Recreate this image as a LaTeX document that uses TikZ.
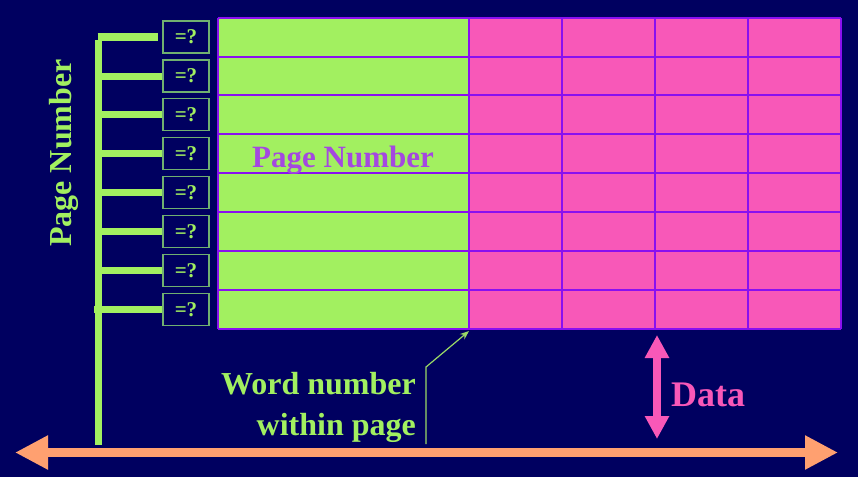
\documentclass[tikz,border=0pt]{standalone}
\usepackage{fontspec}
\setmainfont{Liberation Serif}
\usetikzlibrary{arrows.meta}
\definecolor{bg}{HTML}{000060}
\definecolor{lgreen}{HTML}{A2F060}
\definecolor{lpink}{HTML}{F858B8}
\definecolor{gridline}{HTML}{8A10F0}
\definecolor{orng}{HTML}{FFA070}
\definecolor{pgtxt}{HTML}{A448E0}
\definecolor{boxline}{HTML}{70B070}
\tikzset{
  cmpbox/.style={draw=boxline, line width=1.2pt, fill=bg, minimum width=46pt, minimum height=32pt, inner sep=0pt, text=lgreen, font=\bfseries\fontsize{21}{21}\selectfont},
  branch/.style={draw=lgreen, line width=7pt},
  lbl/.style={text=lgreen, font=\bfseries\fontsize{32}{41}\selectfont},
}
\begin{document}
\begin{tikzpicture}[x=1pt,y=-1pt]
\useasboundingbox[fill=bg] (0,0) rectangle (858,477);
% green and pink areas
\fill[lgreen] (218,18) rectangle (469,329);
\fill[lpink] (469,18) rectangle (841,329);
% grid lines
\foreach \y in {18,57,95,173,212,251,329}
  \draw[gridline, line width=1.6pt] (218,\y) -- (841,\y);
\foreach \y in {134,290}
  \draw[gridline, line width=2.6pt] (218,\y) -- (841,\y);
\foreach \x in {469,562,655,748,841}
  \draw[gridline, line width=1.8pt] (\x,18) -- (\x,329);
\draw[gridline, line width=1.2pt] (218,18) -- (218,329);
% left comparator tree
\draw[branch] (98,40) -- (98,445);
\draw[lgreen, line width=8pt] (97.5,37) -- (158,37);
\foreach \i/\y in {2/76,3/114.5,4/153.5,5/192.5,6/231.5,7/270.5,8/309.5}
  \draw[branch] (98,\y) -- (166,\y);
\draw[branch] (94,309.5) -- (98,309.5);
% comparator boxes
\foreach \i/\y in {1/37,2/76,3/114.5,4/153.5,5/192.5,6/231.5,7/270.5,8/309.5}
  \node[cmpbox] (c\i) at (186,\y) {=?};
% labels
\node[lbl, rotate=90] (pnv) at (64,153) {Page Number};
\node[text=pgtxt, font=\bfseries\fontsize{31}{31}\selectfont] (pni) at (343,160) {Page Number};
\node[lbl, align=right, anchor=east, inner sep=0pt] (wn) at (416,407) {Word number\\within page};
% leader
\coordinate (l0) at (426,444);
\coordinate (l1) at (426,367);
\coordinate (l2) at (469,331);
\draw[lgreen!80!gray, line width=1.2pt, -{Stealth[length=9pt,width=7pt]}] (l0) -- (l1) -- (l2);
% data arrow
\coordinate (d0) at (657,335);
\coordinate (d1) at (657,439);
\draw[lpink, line width=8pt, {Triangle[length=23pt,width=23pt]}-{Triangle[length=23pt,width=23pt]}] (d0) -- (d1);
\node[text=lpink, font=\bfseries\fontsize{36}{36}\selectfont, anchor=west, inner sep=0pt] (data) at (671,395) {Data};
% bus
\coordinate (b0) at (15,452.5);
\coordinate (b1) at (838,452.5);
\draw[orng, line width=9pt, {Triangle[length=33pt,width=32pt]}-{Triangle[length=33pt,width=32pt]}] (b0) -- (b1);
\end{tikzpicture}
\end{document}
